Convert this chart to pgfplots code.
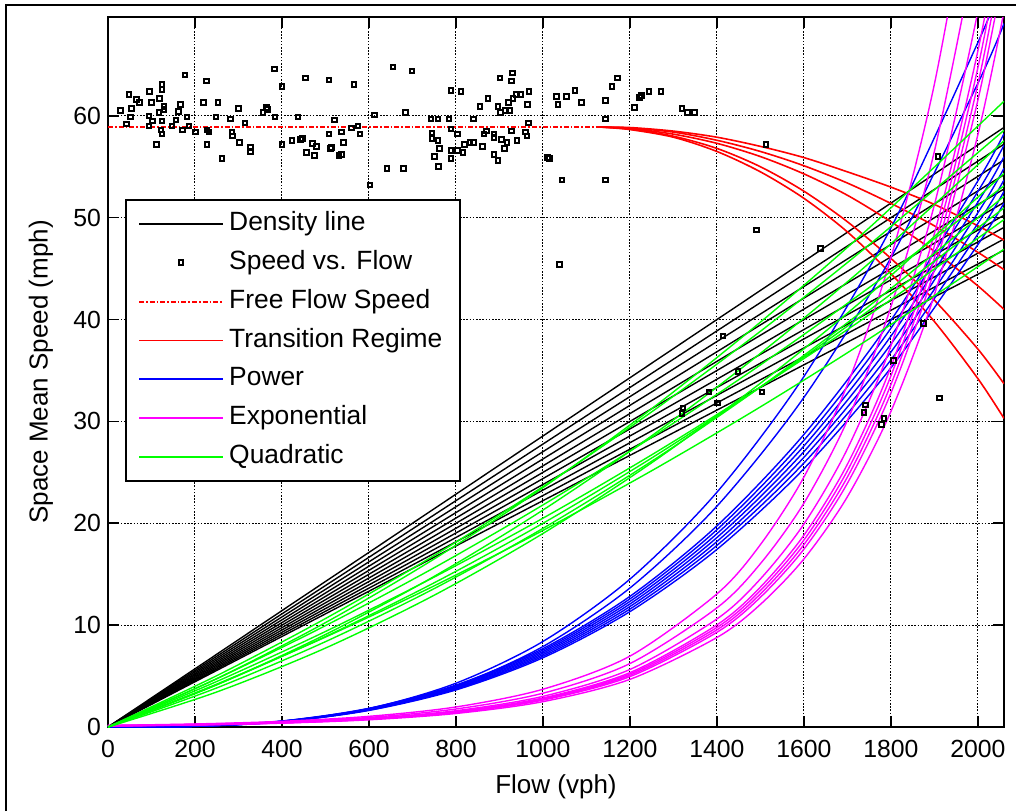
\documentclass[border=0pt]{standalone}
\usepackage{pgfplots}
\pgfplotsset{compat=1.18}
\usepackage{fontspec}
\setmainfont{Liberation Sans}
\definecolor{mred}{RGB}{255,0,0}
\definecolor{mgreen}{RGB}{0,255,0}
\definecolor{mblue}{RGB}{0,0,255}
\definecolor{mmag}{RGB}{255,0,255}
\pgfplotsset{
  legend image code/.code={\draw[#1] (0pt,0pt) -- (42pt,0pt);},
  blk/.style={black, line width=0.7pt, forget plot},
  grn/.style={color=mgreen, line width=0.7pt, forget plot, smooth},
  blu/.style={color=mblue, line width=0.7pt, forget plot, smooth},
  mag/.style={color=mmag, line width=0.7pt, forget plot, smooth},
  rd/.style={color=mred, line width=0.8pt, forget plot, smooth},
}
\begin{document}
\begin{tikzpicture}
\path[use as bounding box] (0pt,0pt) rectangle (508pt,-405.5pt);
\draw[line width=1pt] (3pt,-405.5pt) -- (3pt,-2.5pt) -- (508pt,-2.5pt);
\begin{axis}[
  at={(54pt,-363.5pt)}, anchor=south west,
  scale only axis, width=448pt, height=355pt,
  xmin=0, xmax=2060, ymin=0, ymax=69.7,
  xtick={0,200,...,2000}, ytick={0,10,...,60},
  grid=major,
  major grid style={black, line width=0.5pt, dash pattern=on 0.8pt off 0.8pt},
  axis line style={line width=1pt},
  tick align=inside, major tick length=5.5pt,
  tick style={black, line width=0.8pt},
  ticklabel style={font=\fontsize{12.4}{14}\selectfont},
  /pgf/number format/assume math mode=true,
  /pgf/number format/1000 sep={},
  xticklabel style={yshift=-3pt},
  xlabel={Flow (vph)}, ylabel={Space Mean Speed (mph)},
  label style={font=\fontsize{13}{15}\selectfont},
  xlabel style={at={(axis description cs:0.5,-0.0845)}, anchor=center},
  ylabel style={at={(axis description cs:-0.0748,0.5)}, anchor=center},
  legend style={at={(0.019,0.7437)}, anchor=north west, draw=black, line width=1pt,
    fill=white, font=\fontsize{13.2}{15}\selectfont, inner xsep=6pt, inner ysep=4pt,
    row sep=3.4pt, nodes={inner xsep=2.6pt, inner ysep=2pt, text height=9.4pt, text depth=2.6pt}},
  legend cell align=left,
]
% density lines
\addplot[blk] coordinates {(0,0) (2060,58.86)};
\addplot[blk] coordinates {(0,0) (2060,57.22)};
\addplot[blk] coordinates {(0,0) (2060,55.68)};
\addplot[blk] coordinates {(0,0) (2060,54.21)};
\addplot[blk] coordinates {(0,0) (2060,52.82)};
\addplot[blk] coordinates {(0,0) (2060,51.50)};
\addplot[blk] coordinates {(0,0) (2060,50.24)};
\addplot[blk] coordinates {(0,0) (2060,49.05)};
\addplot[blk] coordinates {(0,0) (2060,47.91)};
\addplot[blk] coordinates {(0,0) (2060,46.82)};
\addplot[blk] coordinates {(0,0) (2060,45.78)};
% scatter
\addplot[only marks, mark=square, mark size=1.15pt, black, line width=1pt, forget plot] coordinates {
(29,60.5) (48,62.1) (54,60.7) (43,59.2) (52,59.9) (65,61.6) (73,61.3) (96,62.4) (100,61.3) (94,60.0)
(94,59.0) (102,59.5) (111,57.2) (117,60.3) (119,61.7) (124,63.1) (124,62.6) (124,59.5) (122,58.6) (124,58.2)
(129,60.9) (129,60.6) (147,59.0) (156,59.6) (162,60.4) (167,61.1) (171,58.6) (177,64.0) (182,59.9) (186,59.0)
(201,58.4) (219,61.3) (227,63.4) (228,58.6) (228,57.2) (232,58.4) (248,59.9) (253,61.3) (262,55.8) (281,59.7)
(285,58.4) (286,58.0) (300,60.7) (303,57.4) (315,59.3) (328,56.9) (328,56.5) (356,60.3) (364,60.8) (367,60.6)
(383,64.6) (384,59.9) (400,62.9) (400,57.2) (423,57.6) (437,59.9) (443,57.7) (447,57.8) (454,63.7) (456,56.4)
(470,57.3) (475,56.1) (480,57.0) (508,63.5) (508,58.2) (512,56.8) (521,59.6) (531,56.1)
(566,63.1) (537,58.4) (542,57.4) (537,56.2) (514,56.9) (560,58.8) (575,59.0) (579,58.2) (602,53.2) (613,60.1)
(641,54.8) (655,64.8) (680,54.8) (684,60.3) (699,64.4) (743,59.7) (759,59.7) (784,59.7) (745,58.3) (745,57.8)
(759,57.6) (762,56.8) (750,56.0) (760,55.0) (789,62.5) (789,58.7) (789,56.6) (789,55.8) (803,58.2) (803,56.6)
(812,62.4) (816,56.4) (820,57.2) (832,57.4) (841,59.7) (841,57.4) (855,60.9) (861,57.0) (864,58.2) (870,58.5)
(874,61.7) (887,58.2) (887,57.9) (887,56.2) (897,60.9) (897,55.6) (901,63.7) (903,60.3) (904,57.7) (912,56.8)
(914,60.5) (921,61.3) (923,60.5) (927,63.4) (930,64.2) (931,61.7) (927,58.5) (917,57.4) (940,57.6) (939,62.1)
(948,62.1) (964,61.1) (968,62.4) (967,59.3) (960,58.4) (963,58.0) (1010,55.9) (1015,55.8) (1031,61.9) (1035,61.1)
(1044,53.7) (1054,61.9) (1074,62.5) (1088,61.3) (1038,45.4) (1144,61.5) (1144,59.7) (1144,53.7) (1159,62.9) (1172,63.7)
(1211,60.8) (1222,61.8) (1226,62.0) (1244,62.4) (1271,62.4) (1320,60.7) (1333,60.3) (1349,60.3) (1513,57.2) (1908,56.0)
(1491,48.8) (1638,47.0) (1414,38.4) (1448,34.9) (1382,32.9) (1401,31.8) (1322,31.3) (1320,30.8) (1504,32.9)
(1875,39.6) (1806,36.0) (1742,31.6) (1738,30.9) (1784,30.3) (1779,29.7) (1912,32.3)
};
% free flow speed
\addplot[color=mred, line width=1pt, dash pattern=on 2.5pt off 1pt on 0.8pt off 1pt, forget plot] coordinates {(0,58.9) (1130,58.9)};
% transition regime
\addplot[rd] coordinates {(1130,58.9) (1200,58.85) (1300,58.5) (1400,57.9) (1500,57.0) (1600,55.9) (1700,54.5) (1800,53.0) (1900,51.3) (2000,49.2) (2060,47.8)};
\addplot[rd] coordinates {(1130,58.9) (1200,58.8) (1300,58.4) (1400,57.6) (1500,56.5) (1600,55.1) (1700,53.4) (1800,51.4) (1900,49.2) (2000,46.6) (2060,44.9)};
\addplot[rd] coordinates {(1130,58.9) (1200,58.75) (1300,58.2) (1400,57.3) (1500,56.0) (1600,54.3) (1700,52.2) (1800,49.6) (1900,46.7) (2000,43.3) (2060,41.0)};
\addplot[rd] coordinates {(1130,58.9) (1200,58.7) (1300,58.0) (1400,56.8) (1500,55.0) (1600,52.6) (1700,49.6) (1800,46.0) (1900,41.9) (2000,37.1) (2060,33.7)};
\addplot[rd] coordinates {(1130,58.9) (1200,58.65) (1300,57.9) (1400,56.5) (1500,54.5) (1600,51.9) (1700,48.6) (1800,44.5) (1900,39.8) (2000,34.2) (2060,30.3)};
% power
\addplot[blu] coordinates {(0,0) (200,0.08) (400,0.52) (600,1.63) (800,3.64) (1000,6.80) (1200,11.33) (1400,17.44) (1600,25.36) (1800,35.26) (2000,47.36) (2060,51.44)};
\addplot[blu] coordinates {(0,0) (200,0.08) (400,0.53) (600,1.66) (800,3.72) (1000,6.95) (1200,11.58) (1400,17.83) (1600,25.92) (1800,36.04) (2000,48.40) (2060,52.58)};
\addplot[blu] coordinates {(0,0) (200,0.08) (400,0.55) (600,1.70) (800,3.80) (1000,7.10) (1200,11.83) (1400,18.21) (1600,26.48) (1800,36.81) (2000,49.44) (2060,53.71)};
\addplot[blu] coordinates {(0,0) (200,0.08) (400,0.56) (600,1.73) (800,3.88) (1000,7.25) (1200,12.08) (1400,18.60) (1600,27.04) (1800,37.59) (2000,50.49) (2060,54.85)};
\addplot[blu] coordinates {(0,0) (200,0.08) (400,0.57) (600,1.77) (800,3.96) (1000,7.40) (1200,12.33) (1400,18.98) (1600,27.59) (1800,38.37) (2000,51.53) (2060,55.98)};
\addplot[blu] coordinates {(0,0) (200,0.08) (400,0.58) (600,1.81) (800,4.04) (1000,7.55) (1200,12.58) (1400,19.37) (1600,28.15) (1800,39.15) (2000,52.58) (2060,57.12)};
\addplot[blu] coordinates {(0,0) (200,0.09) (400,0.59) (600,1.84) (800,4.12) (1000,7.70) (1200,12.83) (1400,19.75) (1600,28.72) (1800,39.92) (2000,53.62) (2060,58.25)};
\addplot[blu] coordinates {(0,0) (200,0.06) (400,0.51) (600,1.71) (800,4.04) (1000,7.90) (1200,13.65) (1400,21.68) (1600,32.36) (1800,46.07) (2000,63.20) (2060,69.06)};
\addplot[blu] coordinates {(0,0) (200,0.07) (400,0.54) (600,1.81) (800,4.30) (1000,8.40) (1200,14.52) (1400,23.05) (1600,34.41) (1800,48.99) (2000,67.20) (2060,73.43)};
% exponential
\addplot[mag] coordinates {(0,0.16) (200,0.30) (400,0.56) (600,1.05) (800,1.97) (1000,3.71) (1200,6.96) (1400,13.07) (1500,17.91) (1600,24.54) (1700,33.62) (1800,46.07) (1900,63.12) (2000,86.50)};
\addplot[mag] coordinates {(0,0.14) (200,0.27) (400,0.50) (600,0.94) (800,1.77) (1000,3.32) (1200,6.23) (1400,11.70) (1500,16.04) (1600,21.98) (1700,30.11) (1800,41.26) (1900,56.53) (2000,77.47)};
\addplot[mag] coordinates {(0,0.13) (200,0.24) (400,0.45) (600,0.85) (800,1.60) (1000,3.01) (1200,5.65) (1400,10.61) (1500,14.54) (1600,19.93) (1700,27.31) (1800,37.42) (1900,51.27) (2000,70.26) (2060,84.87)};
\addplot[mag] coordinates {(0,0.12) (200,0.23) (400,0.43) (600,0.81) (800,1.52) (1000,2.85) (1200,5.34) (1400,10.03) (1500,13.74) (1600,18.83) (1700,25.80) (1800,35.36) (1900,48.45) (2000,66.39) (2060,80.19)};
\addplot[mag] coordinates {(0,0.12) (200,0.22) (400,0.42) (600,0.79) (800,1.48) (1000,2.77) (1200,5.21) (1400,9.78) (1500,13.40) (1600,18.36) (1700,25.16) (1800,34.48) (1900,47.24) (2000,64.74) (2060,78.20)};
\addplot[mag] coordinates {(0,0.12) (200,0.22) (400,0.41) (600,0.77) (800,1.44) (1000,2.71) (1200,5.08) (1400,9.54) (1500,13.07) (1600,17.91) (1700,24.54) (1800,33.62) (1900,46.07) (2000,63.13) (2060,76.25)};
\addplot[mag] coordinates {(0,0.11) (200,0.21) (400,0.40) (600,0.75) (800,1.40) (1000,2.64) (1200,4.95) (1400,9.30) (1500,12.74) (1600,17.46) (1700,23.93) (1800,32.78) (1900,44.92) (2000,61.55) (2060,74.35)};
\addplot[mag] coordinates {(0,0.11) (200,0.20) (400,0.38) (600,0.71) (800,1.33) (1000,2.49) (1200,4.68) (1400,8.79) (1500,12.04) (1600,16.50) (1700,22.61) (1800,30.98) (1900,42.44) (2000,58.16) (2060,70.25)};
% quadratic
\addplot[grn] coordinates {(0,0) (250,3.44) (500,7.75) (750,12.94) (1000,19.00) (1250,25.94) (1500,33.75) (1750,42.44) (2060,54.35)};
\addplot[grn] coordinates {(0,0) (250,3.84) (500,8.38) (750,13.59) (1000,19.50) (1250,26.09) (1500,33.38) (1750,41.34) (2060,52.10)};
\addplot[grn] coordinates {(0,0) (250,4.21) (500,8.83) (750,13.86) (1000,19.30) (1250,25.16) (1500,31.43) (1750,38.11) (2060,46.91)};
\addplot[grn] coordinates {(0,0) (250,4.16) (500,8.88) (750,14.16) (1000,20.00) (1250,26.41) (1500,33.38) (1750,40.91) (2060,50.96)};
\addplot[grn] coordinates {(0,0) (250,4.47) (500,9.38) (750,14.72) (1000,20.50) (1250,26.72) (1500,33.38) (1750,40.47) (2060,49.81)};
\addplot[grn] coordinates {(0,0) (250,4.14) (500,9.08) (750,14.79) (1000,21.30) (1250,28.59) (1500,36.68) (1750,45.54) (2060,57.55)};
\addplot[grn] coordinates {(0,0) (250,4.74) (500,9.95) (750,15.64) (1000,21.80) (1250,28.44) (1500,35.55) (1750,43.14) (2060,53.13)};
\addplot[grn] coordinates {(0,0) (250,5.04) (500,10.65) (750,16.84) (1000,23.60) (1250,30.94) (1500,38.85) (1750,47.34) (2060,58.58)};
\addplot[grn] coordinates {(0,0) (250,4.75) (500,10.25) (750,16.50) (1000,23.50) (1250,31.25) (1500,39.75) (1750,49.00) (2060,61.43)};
% legend
\addlegendimage{black, line width=0.7pt}
\addlegendimage{legend image code/.code={\draw[black, line width=1pt] (19.85pt,-1.15pt) rectangle (22.15pt,1.15pt);}}
\addlegendimage{legend image code/.code={\draw[color=mred, line width=1pt, dash pattern=on 2.5pt off 1pt on 0.8pt off 1pt] (0pt,0pt) -- (42pt,0pt);}}
\addlegendimage{color=mred, line width=0.8pt}
\addlegendimage{color=mblue, line width=0.8pt}
\addlegendimage{color=mmag, line width=0.8pt}
\addlegendimage{color=mgreen, line width=0.8pt}
\legend{Density line, Speed vs. Flow, Free Flow Speed, Transition Regime, Power, Exponential, Quadratic}
\end{axis}
\end{tikzpicture}
\end{document}
